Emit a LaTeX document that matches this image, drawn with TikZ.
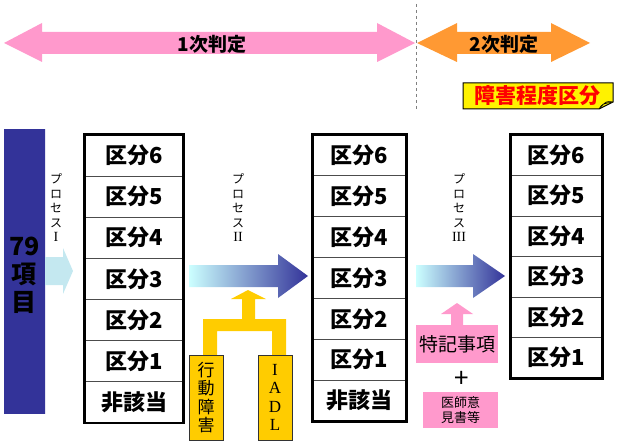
\documentclass[tikz,border=0pt]{standalone}
\usepackage{fontspec}
\newfontfamily\jp{Noto Sans CJK JP}
\newfontfamily\ser{Liberation Serif}
\usetikzlibrary{fit}
\definecolor{pinkd}{HTML}{FF99CC}
\definecolor{pinkl}{HTML}{FFCCFF}
\definecolor{orad}{HTML}{FF9933}
\definecolor{oral}{HTML}{FFFFCC}
\definecolor{navy}{HTML}{333399}
\definecolor{cyanl}{HTML}{CCFFFF}
\definecolor{barmid}{HTML}{C4E8F0}
\definecolor{gold}{HTML}{FFCC00}
\definecolor{pinkbox}{HTML}{FF99CC}
\newcommand{\rnum}[1]{{\ser\fontsize{14}{14}\selectfont #1}}
\begin{document}
\begin{tikzpicture}[x=1pt,y=-1pt,
  cell/.style={draw=gray!60!black, line width=1pt, inner sep=0pt, fill=white,
    font=\jp\bfseries\fontsize{22}{22}\selectfont},
  colbox/.style={draw=black, line width=2.5pt, inner sep=0pt},
  toplabel/.style={font=\jp\bfseries\fontsize{19}{19}\selectfont},
  proclabel/.style={font=\jp\fontsize{12}{14.5}\selectfont, align=center, inner sep=0pt},
  goldbox/.style={draw=black!80, line width=0.6pt, fill=gold, minimum width=34pt, minimum height=85pt, inner sep=0pt, align=center},
  pinkrect/.style={fill=pinkbox, inner sep=0pt}
]
\useasboundingbox (0,0) rectangle (619,444);

% top arrows
\coordinate (pl) at (4,43);
\coordinate (pr) at (415,43);
\path[left color=pinkd, middle color=pinkl, right color=pinkd]
  (pl) -- (42,23) -- (42,32) -- (377,32) -- (377,23) -- (pr) -- (377,62) -- (377,54) -- (42,54) -- (42,62) -- cycle;
\node[toplabel] (first) at (212,44) {1次判定};
\coordinate (ol) at (417,43);
\coordinate (or) at (590,43);
\path[left color=orad, middle color=oral, right color=orad]
  (ol) -- (457,23) -- (457,32) -- (551,32) -- (551,23) -- (or) -- (551,62) -- (551,54) -- (457,54) -- (457,62) -- cycle;
\node[toplabel] (second) at (504,44) {2次判定};

% dashed divider
\coordinate (dtop) at (416,4);
\coordinate (dbot) at (416,110);
\draw[gray, dashed, line width=1pt] (dtop) -- (dbot);

% label with curled corner
\draw[fill=yellow, line width=1pt] (463,83) -- (613,83) -- (613,102) -- (599,109) -- (463,109) -- cycle;
\fill[yellow!70!olive, draw=black, line width=0.6pt] (613,102) .. controls (606,101) .. (599,109) .. controls (602,104) .. (613,102);
\node[font=\jp\bfseries\fontsize{21}{21}\selectfont, text=red] (kubun) at (537,96) {障害程度区分};

% 79 items bar
\node[top color=navy, middle color=barmid, bottom color=navy, minimum width=41pt, minimum height=284pt, inner sep=0pt] (items) at (24.5,271) {};
\node[font=\jp\bfseries\fontsize{25}{28}\selectfont, align=center, inner sep=0pt] (itemstxt) at (24.5,275) {79\\項\\目};

% process I arrow
\fill[barmid] (45,257) -- (63,257) -- (63,248) -- (73,271) -- (63,294) -- (63,285) -- (45,285) -- cycle;
\node[proclabel] (p1) at (56,208) {プ\\ロ\\セ\\ス\\\rnum{I}};

% column 1
\foreach \t [count=\i] in {区分6,区分5,区分4,区分3,区分2,区分1,非該当} {
  \node[cell, minimum width=98pt, minimum height=41.1pt] (a\i) at (134,{135+41.1*(\i-0.5)}) {\t};
}
\node[colbox, fit=(a1)(a7)] (col1) {};

% process II arrow
\path[left color=cyanl, right color=navy]
  (189,265) -- (278,265) -- (278,254) -- (308,276) -- (278,298) -- (278,287) -- (189,287) -- cycle;
\node[proclabel] (p2) at (238,208) {プ\\ロ\\セ\\ス\\\rnum{II}};

% column 2
\foreach \t [count=\i] in {区分6,区分5,区分4,区分3,区分2,区分1,非該当} {
  \node[cell, minimum width=93pt, minimum height=40.86pt] (b\i) at (359.5,{135+40.86*(\i-0.5)}) {\t};
}
\node[colbox, fit=(b1)(b7)] (col2) {};

% gold fork arrow
\fill[gold] (248,290) -- (266,299) -- (255,299) -- (255,319) -- (286,319) -- (286,355) -- (272,355) -- (272,331)
  -- (217,331) -- (217,355) -- (203,355) -- (203,319) -- (242,319) -- (242,299) -- (231,299) -- cycle;
\node[goldbox, font=\jp\fontsize{17}{18.5}\selectfont] (behav) at (206,397.5) {行\\動\\障\\害};
\node[goldbox, font=\ser\fontsize{17}{18.5}\selectfont] (iadl) at (275,397.5) {I\\A\\D\\L};

% process III arrow
\path[left color=cyanl, right color=navy]
  (416,265) -- (473,265) -- (473,254) -- (505,276) -- (473,298) -- (473,287) -- (416,287) -- cycle;
\node[proclabel] (p3) at (459,208) {プ\\ロ\\セ\\ス\\\rnum{III}};

% pink up arrow and boxes
\fill[pinkbox] (457,303) -- (473,314) -- (463,314) -- (463,325) -- (451,325) -- (451,314) -- (441,314) -- cycle;
\node[pinkrect, minimum width=82pt, minimum height=38pt, font=\jp\fontsize{19}{19}\selectfont] (tokki) at (457,344) {特記事項};
\node[font=\jp\fontsize{26}{26}\selectfont, inner sep=0pt] (plus) at (462,379) {+};
\node[pinkrect, minimum width=75pt, minimum height=36pt, font=\jp\fontsize{13}{15}\selectfont, align=center] (ishi) at (460.5,410) {医師意\\見書等};

% column 3
\foreach \t [count=\i] in {区分6,区分5,区分4,区分3,区分2,区分1} {
  \node[cell, minimum width=91pt, minimum height=40.5pt] (c\i) at (556.5,{135+40.5*(\i-0.5)}) {\t};
}
\node[colbox, fit=(c1)(c6)] (col3) {};
\end{tikzpicture}
\end{document}
